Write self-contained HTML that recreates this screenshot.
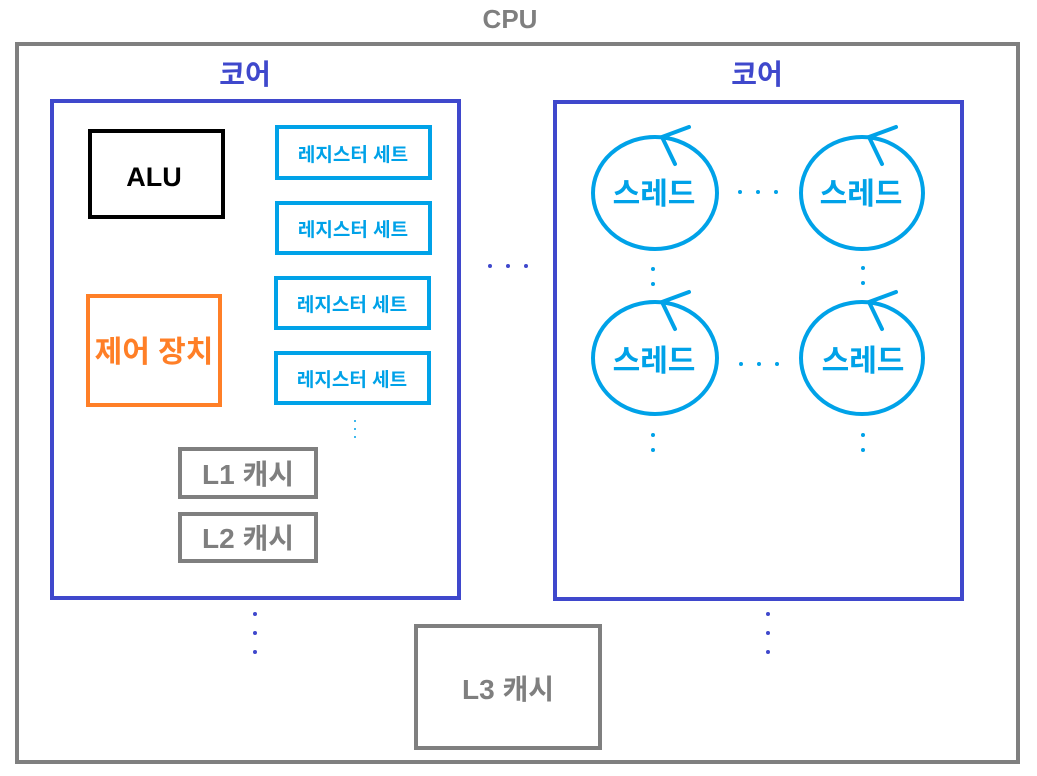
<!DOCTYPE html>
<html><head><meta charset="utf-8"><style>
body{margin:0;background:#fff;}
text{font-family:"Liberation Sans","Noto Sans CJK KR",sans-serif;font-weight:bold;}
</style></head><body>
<svg width="1037" height="771" viewBox="0 0 1037 771" xmlns="http://www.w3.org/2000/svg">
<g fill="none" stroke-width="4">
<rect x="17" y="44" width="1001" height="718" stroke="#7f7f7f"/>
<rect x="52" y="101" width="407" height="497" stroke="#3f48cc"/>
<rect x="555" y="102" width="407" height="497" stroke="#3f48cc"/>
<rect x="90" y="131" width="133" height="86" stroke="#000"/>
<rect x="277" y="127" width="153" height="51" stroke="#00a2e8"/>
<rect x="277" y="203" width="153" height="50" stroke="#00a2e8"/>
<rect x="276" y="278" width="153" height="50" stroke="#00a2e8"/>
<rect x="276" y="353" width="153" height="50" stroke="#00a2e8"/>
<rect x="88" y="296" width="132" height="109" stroke="#ff7f27"/>
<rect x="180" y="449" width="136" height="48" stroke="#7f7f7f"/>
<rect x="180" y="514" width="136" height="47" stroke="#7f7f7f"/>
<rect x="416" y="626" width="184" height="122" stroke="#7f7f7f"/>
</g>
<g fill="none" stroke="#00a2e8" stroke-width="4" stroke-linecap="round">
<ellipse cx="655" cy="193" rx="62" ry="56"/>
<path d="M689 127 L662 137 L675 164"/>
<ellipse cx="862" cy="193" rx="61" ry="56"/>
<path d="M896 127 L869 137 L882 164"/>
<ellipse cx="655" cy="358" rx="62" ry="56"/>
<path d="M689 292 L662 302 L675 329"/>
<ellipse cx="862" cy="358" rx="61" ry="56"/>
<path d="M896 292 L869 302 L882 329"/>
</g>
<g fill="#00a2e8">
<circle cx="740" cy="192" r="2"/><circle cx="758" cy="192" r="2"/><circle cx="776" cy="192" r="2"/>
<circle cx="741" cy="364" r="2"/><circle cx="759" cy="364" r="2"/><circle cx="777" cy="364" r="2"/>
<circle cx="653" cy="269" r="2"/><circle cx="653" cy="284" r="2"/>
<circle cx="863" cy="268" r="2"/><circle cx="863" cy="283" r="2"/>
<circle cx="653" cy="435" r="2"/><circle cx="653" cy="450" r="2"/>
<circle cx="863" cy="435" r="2"/><circle cx="863" cy="450" r="2"/>
<circle cx="355" cy="421" r="1"/><circle cx="355" cy="429" r="1"/><circle cx="355" cy="437" r="1"/>
</g>
<g fill="#3f48cc">
<circle cx="490" cy="266" r="2"/><circle cx="508" cy="266" r="2"/><circle cx="526" cy="266" r="2"/>
<circle cx="255" cy="614" r="2"/><circle cx="255" cy="633" r="2"/><circle cx="255" cy="652" r="2"/>
<circle cx="768" cy="614" r="2"/><circle cx="768" cy="633" r="2"/><circle cx="768" cy="652" r="2"/>
</g>
<g text-anchor="middle">
<text x="510" y="28" font-size="26" fill="#7f7f7f">CPU</text>
<text x="245" y="84" font-size="28" fill="#3f48cc">코어</text>
<text x="757" y="84" font-size="28" fill="#3f48cc">코어</text>
<text x="154" y="186" font-size="27" fill="#000">ALU</text>
<text x="353" y="161" font-size="19" fill="#00a2e8">레지스터 세트</text>
<text x="353" y="236" font-size="19" fill="#00a2e8">레지스터 세트</text>
<text x="352" y="311" font-size="19" fill="#00a2e8">레지스터 세트</text>
<text x="352" y="386" font-size="19" fill="#00a2e8">레지스터 세트</text>
<text x="154" y="362" font-size="30" fill="#ff7f27">제어 장치</text>
<text x="248" y="484" font-size="28" fill="#7f7f7f">L1 캐시</text>
<text x="248" y="548" font-size="28" fill="#7f7f7f">L2 캐시</text>
<text x="508" y="699" font-size="28" fill="#7f7f7f">L3 캐시</text>
<text x="654" y="204" font-size="30" fill="#00a2e8">스레드</text>
<text x="861" y="204" font-size="30" fill="#00a2e8">스레드</text>
<text x="654" y="371" font-size="30" fill="#00a2e8">스레드</text>
<text x="863" y="371" font-size="30" fill="#00a2e8">스레드</text>
</g>
</svg>
</body></html>
